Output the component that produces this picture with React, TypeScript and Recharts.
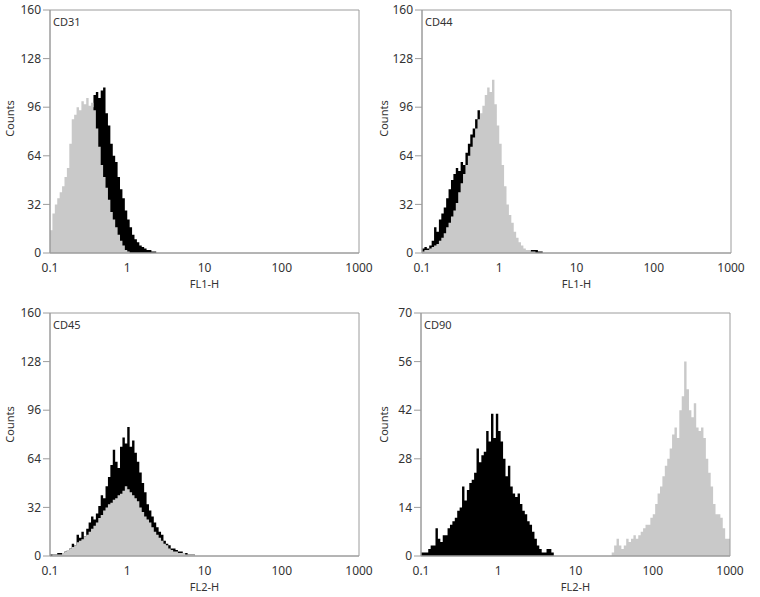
import { AreaChart, Area, XAxis, YAxis, ReferenceArea } from 'recharts';

// 32 channels per decade, channel 0 = 0.1, channel 128 = 1000
const decadeTicks = [0, 32, 64, 96, 128];
const decadeLabels = ['0.1', '1', '10', '100', '1000'];

const countTicks160 = [0, 32, 64, 96, 128, 160];
const countTicks70 = [0, 14, 28, 42, 56, 70];

// counts per channel, starting at the given channel
const cd31Black = [2, 4, 6, 9, 12, 16, 22, 28, 36, 44, 52, 60, 68, 75, 82, 88, 92, 96, 104, 106, 102, 107, 109, 92, 84, 72, 64, 60, 50, 42, 36, 28, 22, 17, 12, 9, 7, 5, 4, 3, 2, 2, 1, 1, 0];
const cd31Gray = [15, 26, 32, 36, 40, 44, 50, 56, 72, 88, 91, 96, 94, 100, 98, 102, 97, 99, 94, 82, 70, 58, 50, 43, 35, 27, 22, 17, 12, 8, 5, 2, 1, 0];

const cd44Black = [3, 4, 3, 5, 8, 17, 14, 22, 26, 30, 36, 42, 48, 52, 56, 54, 60, 58, 66, 72, 78, 82, 88, 94, 70, 55, 40, 28, 20, 14, 10, 7, 5, 4, 3, 2, 2, 1, 1, 1, 1, 1, 1, 1, 1, 2, 2, 2, 1, 1, 0];
const cd44Gray = [1, 2, 2, 3, 4, 5, 6, 8, 10, 13, 17, 20, 24, 28, 33, 40, 46, 52, 58, 64, 70, 76, 82, 88, 92, 97, 104, 109, 106, 114, 98, 84, 72, 58, 44, 32, 25, 20, 14, 10, 7, 5, 3, 2, 2, 1, 1, 0];

const cd45Black = [1, 1, 1, 2, 2, 2, 3, 4, 5, 8, 7, 14, 12, 16, 13, 18, 22, 26, 24, 28, 33, 40, 38, 46, 52, 60, 70, 62, 58, 72, 78, 74, 85, 72, 76, 68, 62, 55, 48, 42, 34, 30, 26, 22, 19, 16, 14, 10, 8, 7, 5, 5, 4, 3, 3, 2, 2, 1, 1, 1, 0];
const cd45Gray = [0, 1, 1, 1, 1, 2, 3, 4, 5, 6, 7, 9, 10, 11, 13, 14, 16, 18, 20, 22, 25, 27, 30, 32, 34, 35, 37, 38, 40, 41, 43, 46, 44, 42, 40, 38, 36, 32, 29, 26, 24, 22, 19, 16, 14, 12, 10, 8, 7, 5, 4, 3, 3, 2, 2, 2, 1, 1, 1, 1, 0];

const cd90Black = [1, 1, 1, 2, 3, 3, 8, 5, 4, 6, 6, 8, 9, 10, 11, 13, 14, 20, 16, 19, 21, 22, 24, 31, 27, 29, 30, 36, 33, 41, 34, 41, 36, 33, 28, 23, 26, 20, 18, 17, 18, 15, 13, 12, 10, 9, 7, 5, 3, 2, 1, 1, 2, 2, 1, 0];
const cd90GrayStart = 79;
const cd90Gray = [1, 3, 5, 3, 2, 3, 5, 4, 5, 6, 5, 6, 7, 8, 9, 9, 11, 12, 15, 18, 20, 23, 26, 28, 31, 35, 37, 34, 42, 46, 56, 48, 42, 40, 44, 37, 36, 37, 34, 28, 24, 20, 15, 12, 12, 11, 8, 5, 5, 4];

const colors = {
  black: '#000000',
  gray: '#c9c9c9',
  frame: '#9c9c9c',
  text: '#333333',
};

function buildRows(black: number[], blackStart: number, gray: number[], grayStart: number) {
  const rows = [];
  for (let ch = 0; ch <= 128; ch++) {
    const b = black[ch - blackStart];
    const g = gray[ch - grayStart];
    rows.push({ ch, black: b ?? 0, gray: g ?? 0 });
  }
  return rows;
}

const panels = [
  { name: 'CD31', axis: 'FL1-H', left: 0, right: 380, top: 0, plotLeft: 50, plotTop: 10, plotRight: 359, plotBottom: 253, yMax: 160, yTicks: countTicks160, labelX: 10, labelDy: -13, rows: buildRows(cd31Black, 0, cd31Gray, 0) },
  { name: 'CD44', axis: 'FL1-H', left: 362, right: 760, top: 0, plotLeft: 422, plotTop: 10, plotRight: 731, plotBottom: 253, yMax: 160, yTicks: countTicks160, labelX: 384, labelDy: -13, rows: buildRows(cd44Black, 0, cd44Gray, 0) },
  { name: 'CD45', axis: 'FL2-H', left: 0, right: 380, top: 300, plotLeft: 50, plotTop: 313, plotRight: 359, plotBottom: 556, yMax: 160, yTicks: countTicks160, labelX: 10, labelDy: -10, rows: buildRows(cd45Black, 0, cd45Gray, 0) },
  { name: 'CD90', axis: 'FL2-H', left: 362, right: 760, top: 300, plotLeft: 421, plotTop: 313, plotRight: 730, plotBottom: 556, yMax: 70, yTicks: countTicks70, labelX: 384, labelDy: -10, rows: buildRows(cd90Black, 0, cd90Gray, cd90GrayStart) },
];

function Panel({ p }: { p: (typeof panels)[number] }) {
  const width = p.right - p.left;
  const axisWidth = p.plotLeft - p.left;
  const height = p.plotBottom - p.top + 40;
  return (
    <div style={{ position: 'absolute', left: p.left, top: p.top, width, height }}>
      <AreaChart
        width={width}
        height={height}
        data={p.rows}
        margin={{ top: p.plotTop - p.top, right: p.right - p.plotRight, left: 0, bottom: 0 }}
      >
        <XAxis
          dataKey="ch"
          type="number"
          domain={[0, 128]}
          ticks={decadeTicks}
          tickFormatter={(v: number) => decadeLabels[decadeTicks.indexOf(v)] ?? ''}
          tick={{ fill: colors.text, fontSize: 12 }}
          axisLine={{ stroke: colors.frame }}
          tickLine={false}
          tickMargin={4}
          height={40}
          interval={0}
          label={{ value: p.axis, position: 'insideBottom', offset: 5, fill: colors.text, fontSize: 11 }}
        />
        <YAxis
          type="number"
          domain={[0, p.yMax]}
          ticks={p.yTicks}
          interval={0}
          width={axisWidth}
          tick={{ fill: colors.text, fontSize: 12 }}
          axisLine={{ stroke: colors.frame }}
          tickLine={{ stroke: colors.frame }}
          tickSize={7}
          tickMargin={2}
          label={{
            value: 'Counts',
            angle: -90,
            position: 'center',
            dx: p.labelX - p.left - axisWidth / 2,
            dy: p.labelDy,
            fill: colors.text,
            fontSize: 11,
          }}
        />
        <Area
          type="stepAfter"
          dataKey="black"
          fill={colors.black}
          fillOpacity={1}
          stroke="none"
          isAnimationActive={false}
        />
        <Area
          type="stepAfter"
          dataKey="gray"
          fill={colors.gray}
          fillOpacity={1}
          stroke="none"
          isAnimationActive={false}
        />
        <ReferenceArea x1={0} x2={128} y1={0} y2={p.yMax} fill="none" stroke={colors.frame} strokeWidth={1} />
      </AreaChart>
      <div
        style={{
          position: 'absolute',
          left: p.plotLeft - p.left + 3,
          top: p.plotTop - p.top + 6,
          fontSize: 11,
          lineHeight: 1,
          color: colors.text,
        }}
      >
        {p.name}
      </div>
    </div>
  );
}

export default function App() {
  return (
    <div
      style={{
        position: 'absolute',
        left: 0,
        top: 0,
        width: 760,
        height: 597,
        overflow: 'hidden',
        background: '#ffffff',
        fontFamily: '"Noto Sans", "Open Sans", sans-serif',
      }}
    >
      {panels.map(p => (
        <Panel key={p.name} p={p} />
      ))}
    </div>
  );
}
